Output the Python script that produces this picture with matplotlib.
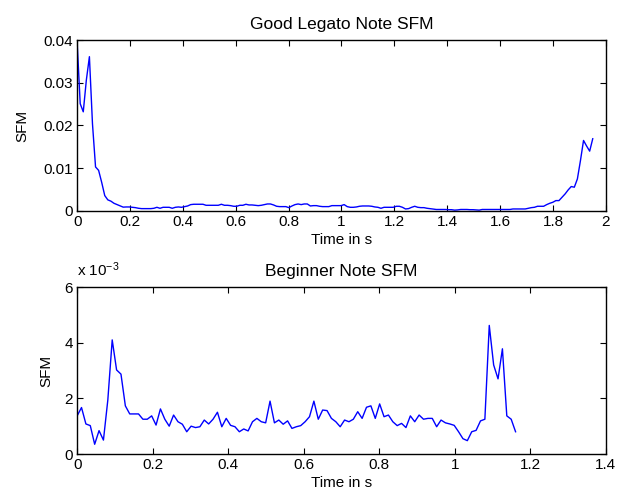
#!/usr/bin/env python3

import matplotlib
matplotlib.use("Agg")
import matplotlib.pyplot as plt
import numpy as np
from matplotlib.ticker import FuncFormatter

# frame hop used for both recordings (seconds)
frame_step = 512 / 44100.0

# spectral flatness, good legato note (units of 1e-3)
legato_sfm = [
    39.6, 25.1, 23.2, 30.6, 36.1, 20.4, 10.3, 9.5, 6.7, 3.6,
    2.6, 2.3, 1.8, 1.5, 1.2, 0.9,
    0.94, 0.94, 0.86, 0.78, 0.63, 0.55, 0.55, 0.55, 0.55, 0.63,
    0.86, 0.63, 0.86, 0.86, 0.86, 0.63, 0.86, 0.94, 0.86, 1.02,
    1.17, 1.49, 1.57, 1.57, 1.57, 1.57, 1.33, 1.33, 1.33, 1.33,
    1.33, 1.57, 1.33, 1.33, 1.25, 1.10, 1.10, 1.33, 1.33, 1.57,
    1.41, 1.41, 1.33, 1.25, 1.33, 1.49, 1.64, 1.64, 1.41, 1.10,
    1.02, 1.02, 1.02, 0.78, 1.17, 1.49, 1.64, 1.49, 1.64, 1.64,
    1.17, 1.25, 1.25, 1.10, 1.02, 1.02, 1.02, 1.25, 1.25, 1.25,
    1.25, 1.49, 1.02, 0.86,
    0.86, 0.94, 1.10, 1.17, 1.17, 1.17, 1.10, 0.94, 0.86, 0.63,
    0.86, 0.86, 0.86, 0.86, 1.10, 1.10, 0.86, 0.47, 0.55, 0.86,
    1.10, 0.86, 0.78, 0.78, 0.63, 0.55, 0.45, 0.35, 0.35, 0.35,
    0.35, 0.30, 0.30, 0.20, 0.25, 0.35, 0.35, 0.35, 0.30, 0.30,
    0.25, 0.20, 0.35, 0.35, 0.35, 0.35, 0.35, 0.35, 0.35, 0.35,
    0.35, 0.35, 0.47, 0.47, 0.47, 0.47, 0.47, 0.63, 0.78, 0.86,
    1.10, 1.10, 1.10, 1.49, 1.80, 2.04, 2.43, 2.43, 3.21, 3.99,
    4.93, 5.72, 5.56, 7.5, 11.8, 16.5, 15.2, 14.0, 16.9,
]

# spectral flatness, beginner note (units of 1e-3)
beginner_sfm = [
    1.37, 1.67, 1.08, 1.02, 0.35, 0.84, 0.50, 1.94, 4.10, 3.02,
    2.87, 1.73, 1.44, 1.44, 1.44, 1.25, 1.25, 1.37, 1.04, 1.62,
    1.25, 1.00, 1.40, 1.16, 1.07, 0.80, 1.00, 0.95, 0.98, 1.22,
    1.08, 1.25, 1.50, 0.98, 1.28, 1.03, 0.98, 0.80, 0.90, 0.83,
    1.16, 1.28, 1.16, 1.12, 1.90, 1.12, 1.22, 1.07, 1.19, 0.92,
    0.98, 1.02, 1.16, 1.34, 1.90, 1.25, 1.58, 1.56, 1.28, 1.16,
    0.98, 1.22, 1.16,
    1.25, 1.52, 1.28, 1.68, 1.73, 1.28, 1.80, 1.34, 1.40, 1.16,
    1.02, 1.10, 0.95, 1.37, 1.16, 1.40, 1.25, 1.28, 1.28, 0.98,
    1.22, 1.12, 1.08, 1.03, 0.80, 0.55, 0.48, 0.80, 0.85, 1.19,
    1.25, 4.62, 3.20, 2.70, 3.78, 1.37, 1.25, 0.80,
]

top_xticks = [0, 0.2, 0.4, 0.6, 0.8, 1, 1.2, 1.4, 1.6, 1.8, 2]
top_yticks = [0, 0.01, 0.02, 0.03, 0.04]
bottom_xticks = [0, 0.2, 0.4, 0.6, 0.8, 1, 1.2, 1.4]
bottom_yticks = [0, 2e-3, 4e-3, 6e-3]

plt.rcParams["font.family"] = ["Liberation Sans", "DejaVu Sans"]
plt.rcParams["font.size"] = 11
plt.rcParams["mathtext.default"] = "regular"


def matlab_style(ax):
    ax.tick_params(direction="in", top=True, right=True, length=4,
                   width=0.8, labelsize=11, pad=3)
    for s in ax.spines.values():
        s.set_linewidth(1.0)


fmt = FuncFormatter(lambda v, p: "%g" % v)

fig = plt.figure(figsize=(6.22, 4.97), dpi=100)

ax1 = fig.add_axes([0.124, 0.5755, 0.850, 0.344])
t1 = np.arange(len(legato_sfm)) * frame_step
ax1.plot(t1, np.array(legato_sfm) * 1e-3, color="blue", linewidth=1.0)
ax1.set_xlim(0, 2)
ax1.set_ylim(0, 0.04)
ax1.set_xticks(top_xticks)
ax1.set_yticks(top_yticks)
ax1.xaxis.set_major_formatter(fmt)
ax1.yaxis.set_major_formatter(fmt)
ax1.set_xlabel("Time in s", labelpad=3)
ax1.set_ylabel("SFM", labelpad=10)
ax1.set_title("Good Legato Note SFM", fontsize=12.5, pad=8)
matlab_style(ax1)

ax2 = fig.add_axes([0.124, 0.0865, 0.850, 0.336])
t2 = np.arange(len(beginner_sfm)) * frame_step
ax2.plot(t2, np.array(beginner_sfm) * 1e-3, color="blue", linewidth=1.0)
ax2.set_xlim(0, 1.4)
ax2.set_ylim(0, 6e-3)
ax2.set_xticks(bottom_xticks)
ax2.set_yticks(bottom_yticks)
ax2.xaxis.set_major_formatter(fmt)
ax2.yaxis.set_major_formatter(FuncFormatter(lambda v, p: "%g" % round(v * 1e3, 6)))
ax2.set_xlabel("Time in s", labelpad=3)
ax2.set_ylabel("SFM", labelpad=8)
ax2.set_title("Beginner Note SFM", fontsize=12.5, pad=8)
ax2.annotate(r"x 10$^{-3}$", xy=(0.0, 1.0), xycoords="axes fraction",
             xytext=(0, 6), textcoords="offset points",
             ha="left", va="bottom", fontsize=11)
matlab_style(ax2)

fig.savefig("out.png", dpi=100)
